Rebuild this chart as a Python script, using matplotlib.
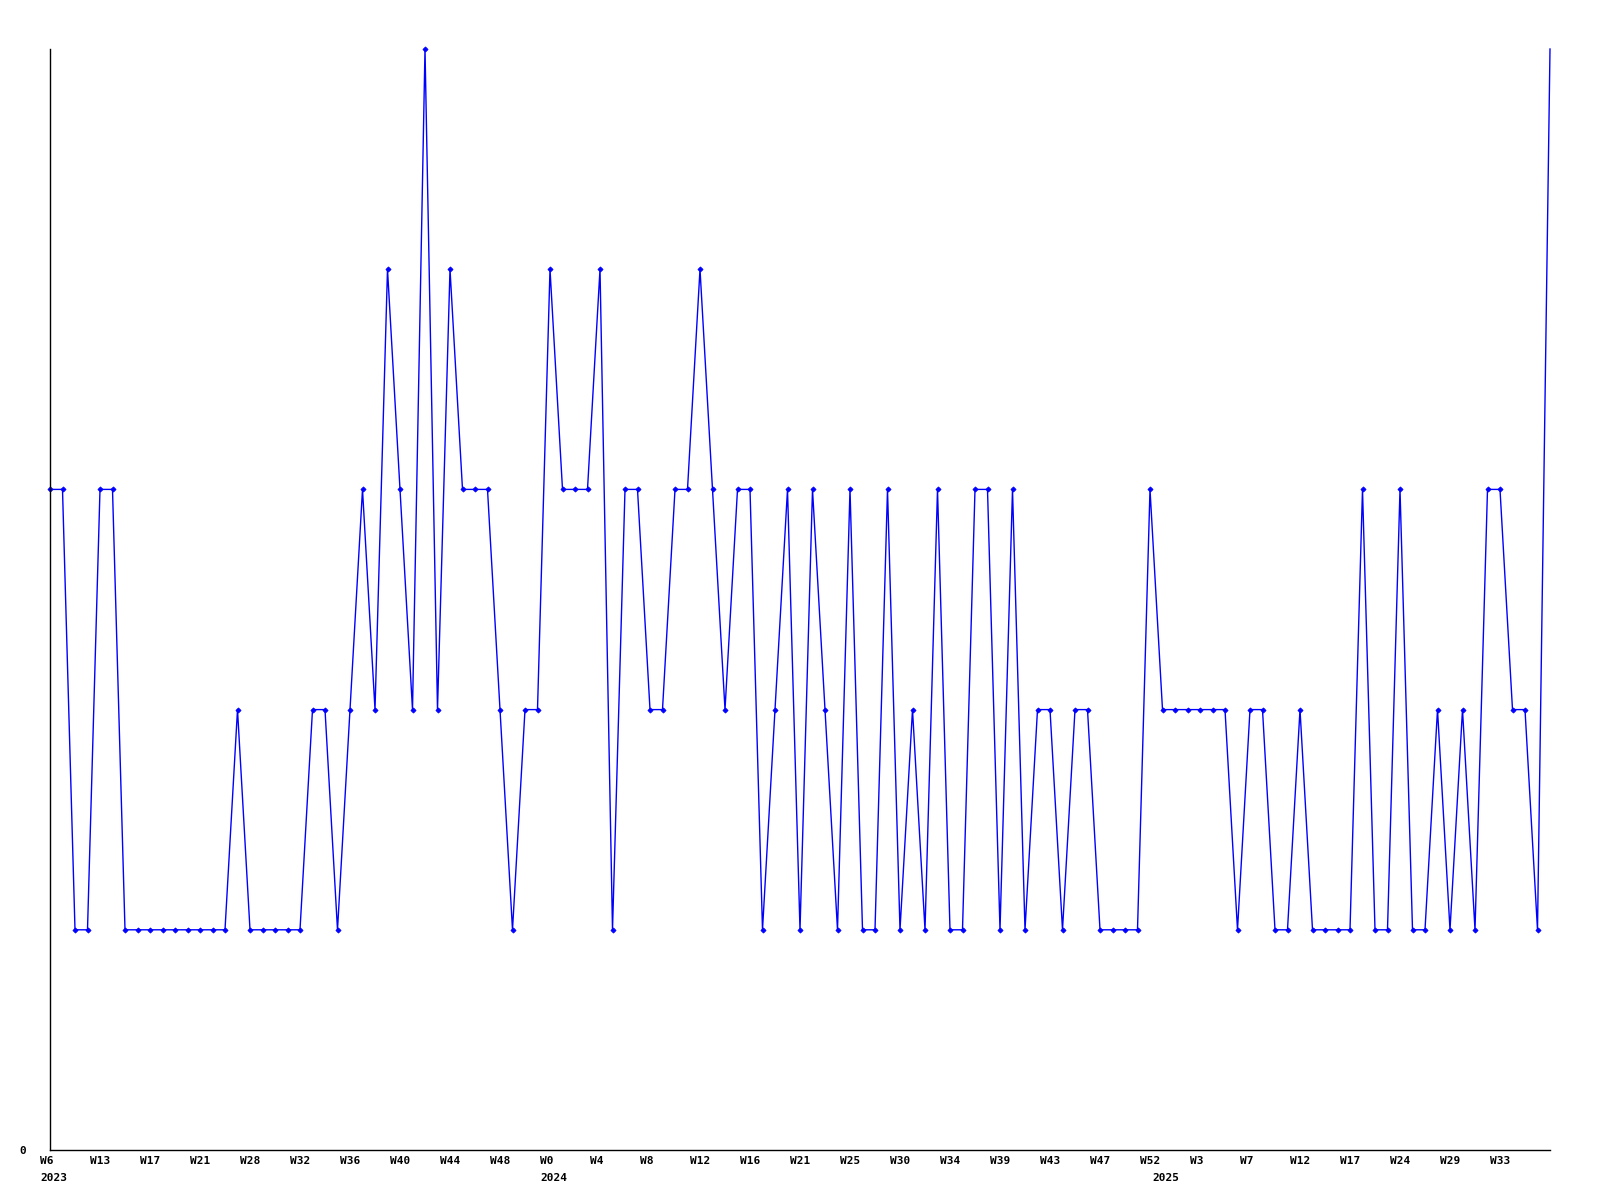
import matplotlib
matplotlib.use("Agg")
import matplotlib.pyplot as plt
from matplotlib.transforms import ScaledTranslation

values = [3, 3, 1, 1, 3, 3, 1, 1, 1, 1, 1, 1, 1, 1, 1, 2, 1, 1, 1, 1,
          1, 2, 2, 1, 2, 3, 2, 4, 3, 2, 5, 2, 4, 3, 3, 3, 2, 1, 2, 2,
          4, 3, 3, 3, 4, 1, 3, 3, 2, 2, 3, 3, 4, 3, 2, 3, 3, 1, 2, 3,
          1, 3, 2, 1, 3, 1, 1, 3, 1, 2, 1, 3, 1, 1, 3, 3, 1, 3, 1, 2,
          2, 1, 2, 2, 1, 1, 1, 1, 3, 2, 2, 2, 2, 2, 2, 1, 2, 2, 1, 1,
          2, 1, 1, 1, 1, 3, 1, 1, 3, 1, 1, 2, 1, 2, 1, 3, 3, 2, 2, 1,
          5]

week_labels = ["W6", "W13", "W17", "W21", "W28", "W32", "W36", "W40", "W44", "W48",
               "W0", "W4", "W8", "W12", "W16", "W21", "W25", "W30", "W34", "W39",
               "W43", "W47", "W52", "W3", "W7", "W12", "W17", "W24", "W29", "W33"]
week_label_step = 4
year_labels = ["2023", "2024", "2025"]
year_positions = [0, 40, 89]

fig = plt.figure(figsize=(16, 12), dpi=100)
ax = fig.add_axes([50/1600, 1 - 1150/1200, 1500/1600, 1101/1200])

x = list(range(len(values)))
ax.plot(x, values, color="#0000ff", linewidth=1.0, marker="D", markersize=2.6,
        markeredgewidth=0.6, clip_on=False, markevery=list(range(len(values) - 1)))

ax.set_xlim(0, len(values) - 1)
ax.set_ylim(0, 5)

for s in ["top", "right"]:
    ax.spines[s].set_visible(False)
for s in ["left", "bottom"]:
    ax.spines[s].set_linewidth(1.0)
    ax.spines[s].set_color("black")

font = dict(family="DejaVu Sans Mono", weight="bold", size=8)

ax.set_yticks([0])
ax.set_yticklabels(["0"], **font)
ax.tick_params(axis="y", length=0, pad=17)

ax.xaxis.remove_overlapping_locs = False
ax.set_xticks([i * week_label_step for i in range(len(week_labels))])
ax.set_xticklabels(week_labels, **font)
ax.set_xticks(year_positions, minor=True)
ax.set_xticklabels(year_labels, minor=True, **font)
ax.tick_params(axis="x", which="major", length=0, pad=4)
ax.tick_params(axis="x", which="minor", length=0, pad=16.5)

off = ScaledTranslation(-10/100, 0, fig.dpi_scale_trans)
for lab in ax.get_xticklabels(which="both"):
    lab.set_horizontalalignment("left")
    lab.set_transform(lab.get_transform() + off)

fig.savefig("out.png", dpi=100, facecolor="white")
